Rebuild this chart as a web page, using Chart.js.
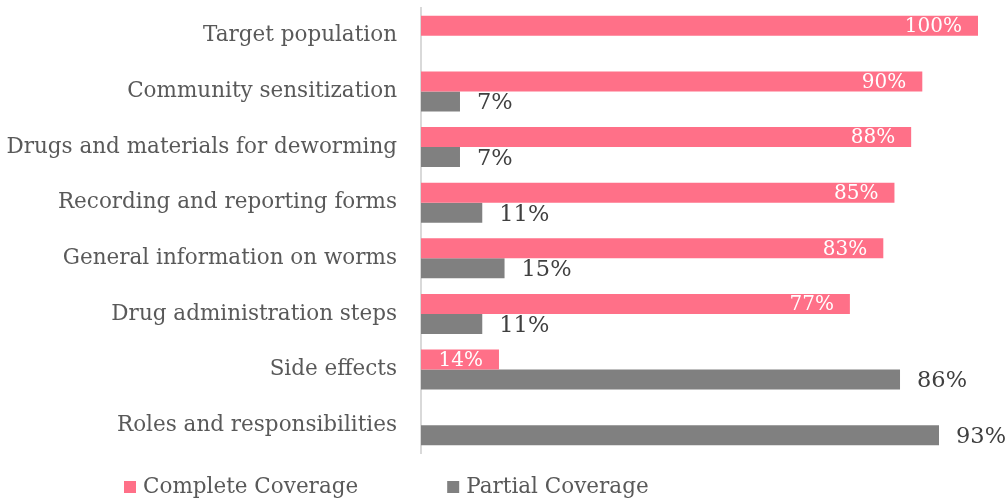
<!DOCTYPE html>
<html>
<head>
<meta charset="utf-8">
<script src="https://cdn.jsdelivr.net/npm/chart.js@4"></script>
<style>
  html, body { margin: 0; padding: 0; background: #fff; }
  #wrap { width: 1007px; height: 501px; }
</style>
</head>
<body>
<div id="wrap"><canvas id="chart"></canvas></div>
<script>
// chart data
const categories = [
  "Target population",
  "Community sensitization",
  "Drugs and materials for deworming",
  "Recording and reporting forms",
  "General information on worms",
  "Drug administration steps",
  "Side effects",
  "Roles and responsibilities"
];
const completeCoverage = [100, 90, 88, 85, 83, 77, 14, null];
const partialCoverage = [null, 7, 7, 11, 15, 11, 86, 93];
const seriesNames = ["Complete Coverage", "Partial Coverage"];
const seriesColors = ["#FF7088", "#808080"];

const FONT = "'DejaVu Serif', 'Liberation Serif', serif";
const TEXT = "#595959";

// draws the % labels on the bars
const valueLabels = {
  id: "valueLabels",
  afterDatasetsDraw(chart) {
    const ctx = chart.ctx;
    ctx.save();
    ctx.textBaseline = "middle";
    chart.data.datasets.forEach((ds, i) => {
      const meta = chart.getDatasetMeta(i);
      meta.data.forEach((bar, j) => {
        const v = ds.data[j];
        if (v == null) return;
        if (i === 0) {
          ctx.font = "20px " + FONT;
          ctx.fillStyle = "#ffffff";
          ctx.textAlign = "right";
          ctx.fillText(v + "%", bar.x - 16, bar.y + 1);
        } else {
          ctx.font = "22.5px " + FONT;
          ctx.fillStyle = "#404040";
          ctx.textAlign = "left";
          ctx.fillText(v + "%", bar.x + 17, bar.y + 2);
        }
      });
    });
    ctx.restore();
  }
};

// legend below the plot, left-shifted like the original
const bottomLegend = {
  id: "bottomLegend",
  afterDraw(chart) {
    const ctx = chart.ctx;
    ctx.save();
    ctx.font = "21.5px " + FONT;
    ctx.textBaseline = "middle";
    ctx.textAlign = "left";
    let x = 124;
    const y = 487;
    chart.data.datasets.forEach((ds) => {
      ctx.fillStyle = ds.backgroundColor;
      ctx.fillRect(x, y - 6, 12, 12);
      ctx.fillStyle = TEXT;
      ctx.fillText(ds.label, x + 19, y);
      x += 19 + ctx.measureText(ds.label).width + 89;
    });
    ctx.restore();
  }
};

new Chart(document.getElementById("chart"), {
  type: "bar",
  data: {
    labels: categories,
    datasets: [
      {
        label: seriesNames[0],
        data: completeCoverage,
        backgroundColor: seriesColors[0],
        categoryPercentage: 0.72,
        barPercentage: 1.0
      },
      {
        label: seriesNames[1],
        data: partialCoverage,
        backgroundColor: seriesColors[1],
        categoryPercentage: 0.72,
        barPercentage: 1.0
      }
    ]
  },
  options: {
    indexAxis: "y",
    responsive: true,
    maintainAspectRatio: false,
    animation: false,
    layout: { padding: { top: 8, right: 29, bottom: 48, left: 0 } },
    scales: {
      x: { display: false, min: 0, max: 100 },
      y: {
        grid: { display: false, drawTicks: false },
        border: { display: true, color: "#D9D9D9", width: 2 },
        ticks: {
          color: TEXT,
          font: { family: FONT, size: 21.5 },
          padding: 24
        },
        afterFit: (scale) => {
          scale.width = 421;
          scale.paddingTop = 0;
          scale.paddingBottom = 0;
        }
      }
    },
    plugins: {
      legend: { display: false },
      tooltip: { enabled: false }
    }
  },
  plugins: [valueLabels, bottomLegend]
});
</script>
</body>
</html>
